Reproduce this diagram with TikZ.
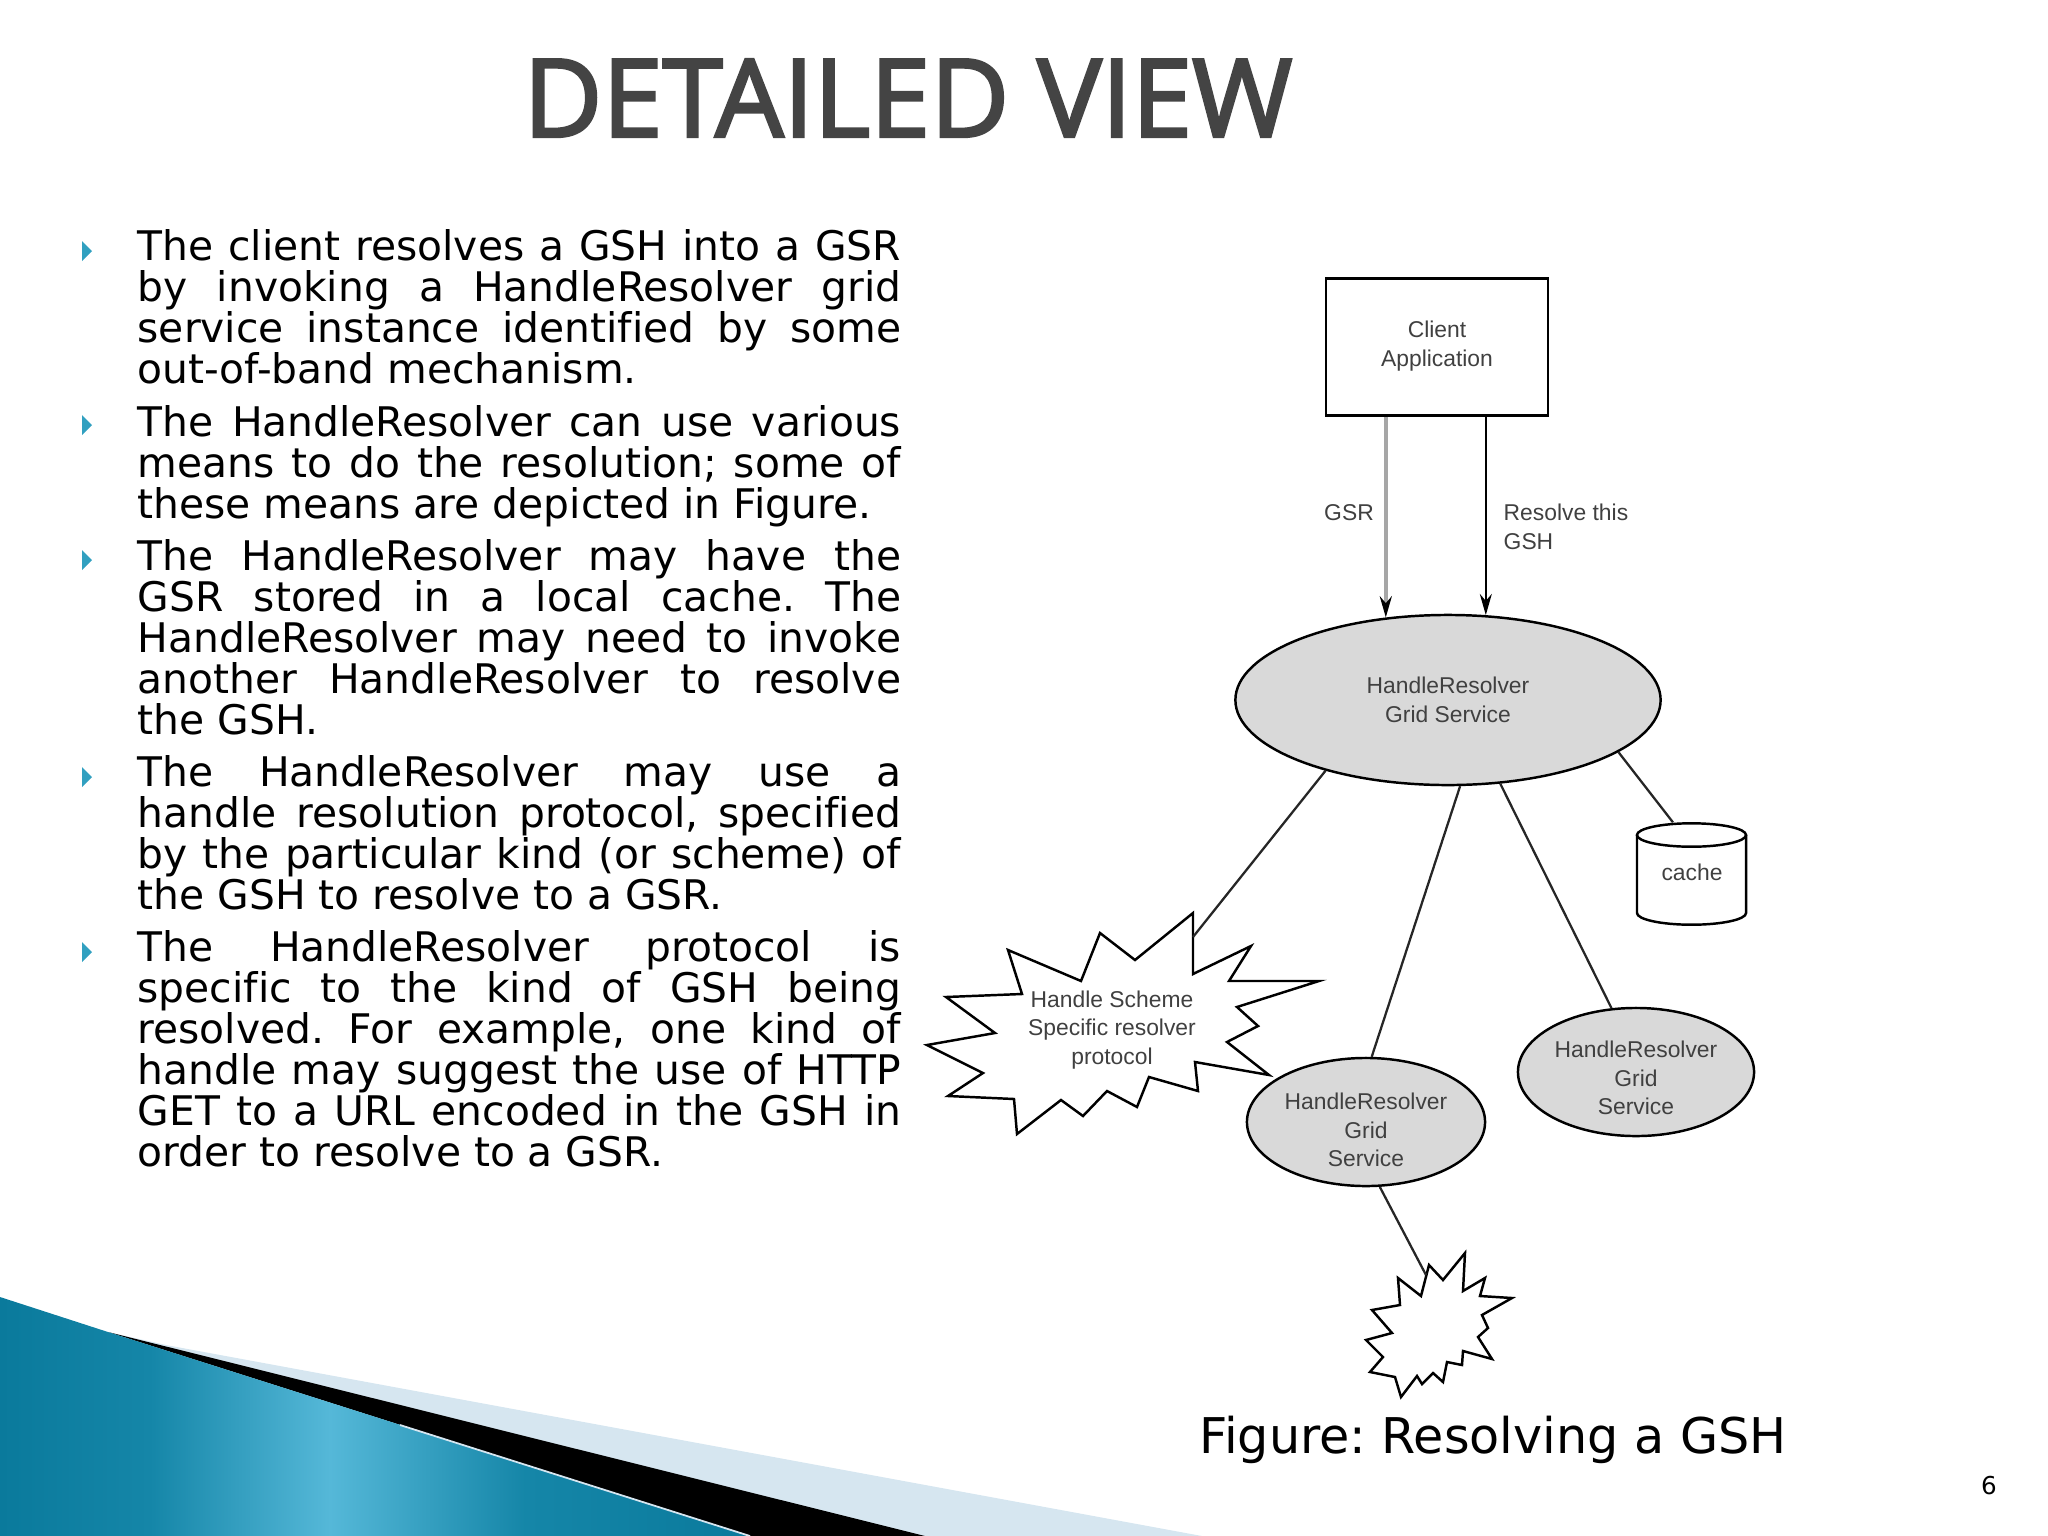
\documentclass[tikz,border=0pt]{standalone}
\usepackage{fontspec}
\usepackage{tikz}
\usetikzlibrary{arrows.meta,positioning,shapes.geometric}
\setmainfont[Ligatures=NoCommon]{DejaVu Sans}
\newfontfamily\figfont{Liberation Sans}
\newfontfamily\headfont[RawFeature={embolden=2.6}]{Open Sans}
\definecolor{bandlight}{HTML}{D6E6F0}
\definecolor{tealdark}{HTML}{0A7A9C}
\definecolor{tealmid}{HTML}{1586A8}
\definecolor{teallight}{HTML}{55B8D8}
\definecolor{bulletcol}{HTML}{31A0C0}
\definecolor{labelcol}{HTML}{404040}
\definecolor{headcol}{HTML}{444444}
\pgfdeclarehorizontalshading{tealband}{100bp}{color(0bp)=(tealdark); color(25bp)=(tealdark); color(35bp)=(tealmid); color(47bp)=(teallight); color(60bp)=(tealmid); color(75bp)=(tealdark); color(100bp)=(tealdark)}
\tikzset{
    para/.style={anchor=north west,inner sep=0pt,text width=7.63cm,align=justify,font=\frenchspacing\fontsize{11.6}{11.67}\selectfont},
    figlabel/.style={inner sep=0pt,align=center,text=labelcol,font=\figfont\fontsize{6.5}{8.1}\selectfont},
    resolver/.style={ellipse,draw,line width=0.7pt,fill=black!15,inner sep=0pt,figlabel},
    burst/.style={draw,line width=0.7pt,fill=white,line join=miter},
    wire/.style={draw,line width=0.65pt,black!85}
}
\begin{document}
\begin{tikzpicture}[x=0.01cm,y=-0.01cm]
    \useasboundingbox (0,0) rectangle (2048,1536);
    \fill[bandlight] (108,1332)--(166,1345)--(1202,1536)--(750,1536)--cycle;
    \fill[black] (108,1332)--(925,1536)--(750,1536)--cycle;
    \shade[shading=tealband] (0,1297)--(108,1332)--(750,1536)--(0,1536)--cycle;
    \draw[bandlight,line width=0.5pt] (400,1425)--(750,1536);

    \node[text=headcol,inner sep=0pt,font=\headfont\fontsize{30.8}{30.8}\selectfont] (title) at (908,98) {DETAILED VIEW};

    \foreach \y in {251,425,560,777,952}
        {
            \fill[bulletcol] (82,\y-10)--(92,\y)--(82,\y+10)--cycle;
        }
    \node[para] (p1) at (137,229) {The client resolves a GSH into a GSR\linebreak by invoking a HandleResolver grid\linebreak service instance identified by some\linebreak out-of-band mechanism.};
    \node[para] (p2) at (137,405) {The HandleResolver can use various\linebreak means to do the resolution; some of\linebreak these means are depicted in Figure.};
    \node[para] (p3) at (137,539) {The HandleResolver may have the\linebreak GSR stored in a local cache. The\linebreak HandleResolver may need to invoke\linebreak another HandleResolver to resolve\linebreak the GSH.};
    \node[para] (p4) at (137,755) {The HandleResolver may use a\linebreak handle resolution protocol, specified\linebreak by the particular kind (or scheme) of\linebreak the GSH to resolve to a GSR.};
    \node[para] (p5) at (137,930) {The HandleResolver protocol is\linebreak specific to the kind of GSH being\linebreak resolved. For example, one kind of\linebreak handle may suggest the use of HTTP\linebreak GET to a URL encoded in the GSH in\linebreak order to resolve to a GSR.};

    \node[draw,line width=0.7pt,inner sep=0pt,minimum width=2.22cm,minimum height=1.37cm] (client) at (1437,347) {};
    \node[figlabel] (clienttext) at (1437,346) {Client\\Application};
    \node[resolver,minimum width=4.25cm,minimum height=1.70cm] (hr) at (1448,700) {HandleResolver\\Grid Service};
    \node[resolver,minimum width=2.38cm,minimum height=1.28cm] (hrleft) at (1366,1122) {};
    \node[figlabel] (hrlefttext) at (1366,1130) {HandleResolver\\Grid\\Service};
    \node[resolver,minimum width=2.36cm,minimum height=1.28cm] (hrright) at (1636,1072) {};
    \node[figlabel] (hrrighttext) at (1636,1078) {HandleResolver\\Grid\\Service};

    \draw[line width=0.7pt] (1637,835)--(1637,913) arc[start angle=180,end angle=360,x radius=0.545cm,y radius=0.117cm]--(1746,835);
    \draw[line width=0.7pt] (1691.5,835) ellipse [x radius=0.545cm,y radius=0.117cm];
    \node[figlabel,minimum width=1.09cm,minimum height=0.98cm] (cache) at (1692,872) {cache};

    \draw[burst] (1193,913)--(1193,974)--(1251,946)--(1229,981)--(1319,981)--(1237,1007)--(1258,1026)--(1227,1042)--(1269,1075)--(1195,1062)--(1198,1091)--(1149,1077)--(1137,1107)--(1107,1091)--(1083,1116)--(1061,1100)--(1017,1134)--(1014,1099)--(948,1096)--(983,1073)--(927,1045)--(995,1033)--(946,997)--(1022,994)--(1008,950)--(1081,981)--(1100,933)--(1135,960)--cycle;
    \node[figlabel] (scheme) at (1112,1030) {Handle Scheme\\Specific resolver\\protocol};
    \draw[burst] (1429,1265)--(1443,1280)--(1465,1253)--(1463,1291)--(1485,1278)--(1480,1296)--(1512,1298)--(1482,1315)--(1488,1328)--(1478,1337)--(1492,1359)--(1463,1351)--(1462,1365)--(1447,1362)--(1443,1382)--(1433,1373)--(1422,1384)--(1417,1376)--(1401,1397)--(1395,1377)--(1370,1372)--(1383,1357)--(1366,1340)--(1392,1333)--(1372,1310)--(1400,1305)--(1398,1278)--(1421,1296)--cycle;
    \coordinate (schemetip) at (1193,937);
    \coordinate (smalltip) at (1426,1275);

    \draw[line width=1pt,black!35,-{Stealth[length=6pt,width=3.4pt,black]}] (client.south -| hr.127.4)--(hr.127.4);
    \draw[line width=0.7pt,-{Stealth[length=6pt,width=3.4pt]}] (client.south -| hr.66.2)--(hr.66.2);
    \node[figlabel] (gsr) at (1349,513) {GSR};
    \node[figlabel,anchor=west,align=left] (resolve) at (1503,527) {Resolve this\\GSH};

    \draw[wire] (hr.210.4)--(schemetip);
    \draw[wire] (hr.278)--(hrleft.85.4);
    \draw[wire] (hr.302.7)--(hrright.111.5);
    \draw[wire] (hr.343.6)--(cache.111);
    \draw[wire] (hrleft.282.3)--(smalltip);

    \node[inner sep=0pt,font=\frenchspacing\fontsize{14}{14}\selectfont] (caption) at (1493,1440) {Figure: Resolving a GSH};
    \node[inner sep=0pt,font=\fontsize{7}{7}\selectfont] (pagenum) at (1989,1486) {6};
\end{tikzpicture}
\end{document}
